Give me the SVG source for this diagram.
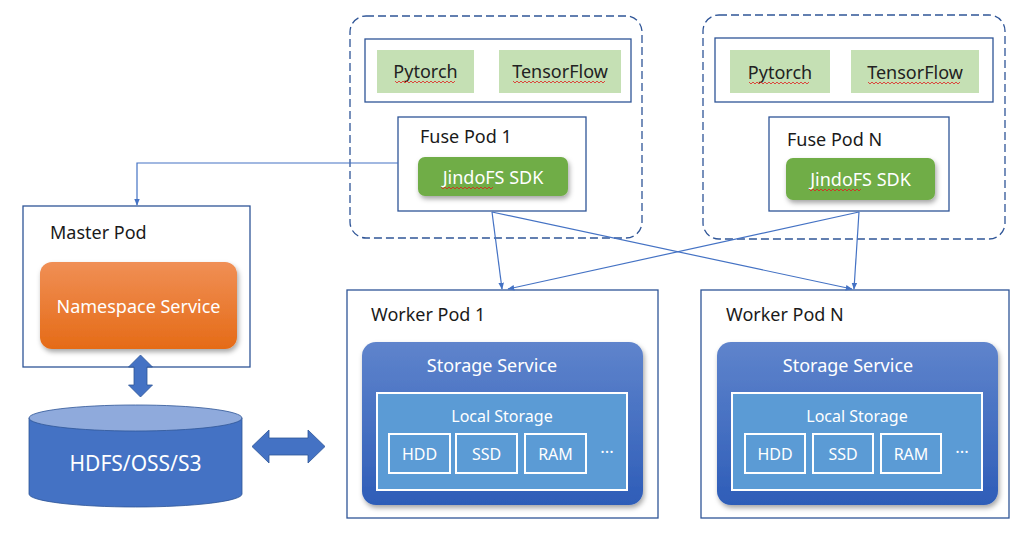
<svg xmlns="http://www.w3.org/2000/svg" width="1034" height="534" viewBox="0 0 1034 534">
<defs>
<style>
text{font-family:"Noto Sans","Liberation Sans",sans-serif;}
.box{fill:#fff;stroke:#2f5597;stroke-width:1.3;}
.dash{fill:none;stroke:#2f5597;stroke-width:1.3;stroke-dasharray:8,4;}
.fw{fill:#c5e0b4;}
.lbl{font-size:18px;fill:#1a1a1a;}
.dark{font-size:18px;fill:#222;text-anchor:middle;}
.w{fill:#fff;text-anchor:middle;}
.sdk{fill:#70ad47;filter:url(#sh);}
.ss{fill:url(#gb);filter:url(#sh);}
.ls{fill:#5b9bd5;stroke:#fff;stroke-width:2;}
.cell{fill:none;stroke:#fff;stroke-width:2;}
.con{fill:none;stroke:#4472c4;stroke-width:1.2;}
.sq{fill:none;stroke:#e02020;stroke-width:0.8;}
.big{fill:#4472c4;stroke:#2f5597;stroke-width:0.8;}
</style>
<linearGradient id="go" x1="0" y1="0" x2="0" y2="1">
<stop offset="0" stop-color="#f08f55"/><stop offset="1" stop-color="#e56b17"/>
</linearGradient>
<linearGradient id="gb" x1="0" y1="0" x2="0" y2="1">
<stop offset="0" stop-color="#5f84cc"/><stop offset="1" stop-color="#2e5db8"/>
</linearGradient>
<filter id="sh" x="-10%" y="-10%" width="125%" height="135%">
<feDropShadow dx="1.5" dy="3" stdDeviation="2.5" flood-color="#000" flood-opacity="0.35"/>
</filter>
<marker id="ah" viewBox="0 0 10 10" refX="9" refY="5" markerWidth="7" markerHeight="7" orient="auto" markerUnits="userSpaceOnUse">
<path d="M0,1 L10,5 L0,9 z" fill="#4472c4"/>
</marker>
</defs>

<g id="fuse-group-1">
<rect class="dash" x="350" y="16" width="292" height="222" rx="16"/>
<rect class="box" x="365" y="39" width="266" height="63"/>
<rect class="fw" x="377" y="50" width="97" height="43"/>
<text class="dark" x="425.5" y="78">Pytorch</text>
<path class="sq" d="M395,81 l2,2 l2,-2 l2,2 l2,-2 l2,2 l2,-2 l2,2 l2,-2 l2,2 l2,-2 l2,2 l2,-2 l2,2 l2,-2 l2,2 l2,-2 l2,2 l2,-2 l2,2 l2,-2 l2,2 l2,-2 l2,2 l2,-2 l2,2 l2,-2 l2,2 l2,-2 l2,2 l2,-2"/>
<rect class="fw" x="499" y="50" width="122" height="43"/>
<text class="dark" x="560" y="78">TensorFlow</text>
<path class="sq" d="M513,81 l2,2 l2,-2 l2,2 l2,-2 l2,2 l2,-2 l2,2 l2,-2 l2,2 l2,-2 l2,2 l2,-2 l2,2 l2,-2 l2,2 l2,-2 l2,2 l2,-2 l2,2 l2,-2 l2,2 l2,-2 l2,2 l2,-2 l2,2 l2,-2 l2,2 l2,-2 l2,2 l2,-2 l2,2 l2,-2 l2,2 l2,-2 l2,2 l2,-2 l2,2 l2,-2 l2,2 l2,-2 l2,2 l2,-2 l2,2 l2,-2 l2,2 l2,-2"/>
</g>
<g id="fuse-pod-1">
<rect class="box" x="398" y="117" width="188" height="94"/>
<text class="lbl" x="420" y="143">Fuse Pod 1</text>
<rect class="sdk" x="418" y="157" width="150" height="39" rx="7"/>
<text class="w" x="493" y="184" font-size="18">JindoFS SDK</text>
<path class="sq" d="M441,187 l2,2 l2,-2 l2,2 l2,-2 l2,2 l2,-2 l2,2 l2,-2 l2,2 l2,-2 l2,2 l2,-2 l2,2 l2,-2 l2,2 l2,-2 l2,2 l2,-2 l2,2 l2,-2 l2,2 l2,-2 l2,2 l2,-2 l2,2 l2,-2"/>
</g>

<g id="fuse-group-n">
<rect class="dash" x="703" y="15" width="302" height="224" rx="16"/>
<rect class="box" x="715" y="38" width="278" height="64"/>
<rect class="fw" x="730" y="50" width="100" height="43"/>
<text class="dark" x="780" y="79">Pytorch</text>
<path class="sq" d="M749,82 l2,2 l2,-2 l2,2 l2,-2 l2,2 l2,-2 l2,2 l2,-2 l2,2 l2,-2 l2,2 l2,-2 l2,2 l2,-2 l2,2 l2,-2 l2,2 l2,-2 l2,2 l2,-2 l2,2 l2,-2 l2,2 l2,-2 l2,2 l2,-2 l2,2 l2,-2 l2,2 l2,-2"/>
<rect class="fw" x="851" y="50" width="128" height="43"/>
<text class="dark" x="915" y="79">TensorFlow</text>
<path class="sq" d="M868,82 l2,2 l2,-2 l2,2 l2,-2 l2,2 l2,-2 l2,2 l2,-2 l2,2 l2,-2 l2,2 l2,-2 l2,2 l2,-2 l2,2 l2,-2 l2,2 l2,-2 l2,2 l2,-2 l2,2 l2,-2 l2,2 l2,-2 l2,2 l2,-2 l2,2 l2,-2 l2,2 l2,-2 l2,2 l2,-2 l2,2 l2,-2 l2,2 l2,-2 l2,2 l2,-2 l2,2 l2,-2 l2,2 l2,-2 l2,2 l2,-2 l2,2 l2,-2"/>
</g>
<g id="fuse-pod-n">
<rect class="box" x="769" y="117" width="180" height="94"/>
<text class="lbl" x="787" y="146">Fuse Pod N</text>
<rect class="sdk" x="786" y="158" width="149" height="42" rx="7"/>
<text class="w" x="860.5" y="186" font-size="18">JindoFS SDK</text>
<path class="sq" d="M809,189 l2,2 l2,-2 l2,2 l2,-2 l2,2 l2,-2 l2,2 l2,-2 l2,2 l2,-2 l2,2 l2,-2 l2,2 l2,-2 l2,2 l2,-2 l2,2 l2,-2 l2,2 l2,-2 l2,2 l2,-2 l2,2 l2,-2 l2,2 l2,-2"/>
</g>

<g id="master-pod">
<rect class="box" x="23" y="206" width="227" height="161"/>
<text class="lbl" x="50" y="239">Master Pod</text>
<rect x="40" y="262" width="197" height="87" rx="12" fill="url(#go)" filter="url(#sh)"/>
<text class="w" x="138.5" y="313" font-size="18">Namespace Service</text>
</g>

<g id="storage-backend">
<path d="M29,418 V494 A106.5,13 0 0 0 242,494 V418 Z" fill="#4472c4" stroke="#2f5597" stroke-width="0.8"/>
<ellipse cx="135.5" cy="418" rx="106.5" ry="13" fill="#8faadc" stroke="#2f5597" stroke-width="0.8"/>
<text class="w" x="135.5" y="471" font-size="21">HDFS/OSS/S3</text>
</g>

<g id="worker-pod-1">
<rect class="box" x="347" y="290" width="311" height="228"/>
<text class="lbl" x="371" y="321">Worker Pod 1</text>
<rect class="ss" x="362" y="342" width="281" height="163" rx="14"/>
<text class="w" x="492" y="372" font-size="18">Storage Service</text>
<rect class="ls" x="377" y="393" width="250" height="97"/>
<text class="w" x="502" y="422" font-size="16">Local Storage</text>
<rect class="cell" x="389" y="434" width="61" height="39"/>
<text class="w" x="419.5" y="460" font-size="16">HDD</text>
<rect class="cell" x="456" y="434" width="61" height="39"/>
<text class="w" x="486.5" y="460" font-size="16">SSD</text>
<rect class="cell" x="525" y="434" width="61" height="39"/>
<text class="w" x="555.5" y="460" font-size="16">RAM</text>
<text class="w" x="607" y="458" font-size="17">···</text>
</g>

<g id="worker-pod-n">
<rect class="box" x="701" y="290" width="308" height="228"/>
<text class="lbl" x="726" y="321">Worker Pod N</text>
<rect class="ss" x="717" y="342" width="281" height="163" rx="14"/>
<text class="w" x="848" y="372" font-size="18">Storage Service</text>
<rect class="ls" x="732" y="393" width="250" height="97"/>
<text class="w" x="857" y="422" font-size="16">Local Storage</text>
<rect class="cell" x="745" y="434" width="60" height="39"/>
<text class="w" x="775" y="460" font-size="16">HDD</text>
<rect class="cell" x="813" y="434" width="60" height="39"/>
<text class="w" x="843" y="460" font-size="16">SSD</text>
<rect class="cell" x="881" y="434" width="60" height="39"/>
<text class="w" x="911" y="460" font-size="16">RAM</text>
<text class="w" x="962" y="458" font-size="17">···</text>
</g>

<g id="connectors">
<path class="con" d="M398,163 H137 V205" marker-end="url(#ah)"/>
<path class="con" d="M492,212 L502,289" marker-end="url(#ah)"/>
<path class="con" d="M492,212 L852,289" marker-end="url(#ah)"/>
<path class="con" d="M859,212 L508,289" marker-end="url(#ah)"/>
<path class="con" d="M859,212 L854,289" marker-end="url(#ah)"/>
<path class="big" d="M140.5,355 L152.5,367 L147,367 L147,385 L152.5,385 L140.5,397 L128.5,385 L134,385 L134,367 L128.5,367 Z"/>
<path class="big" d="M252,446.5 L269,430 L269,438 L308,438 L308,430 L325,446.5 L308,463 L308,455 L269,455 L269,463 Z"/>
</g>
</svg>
